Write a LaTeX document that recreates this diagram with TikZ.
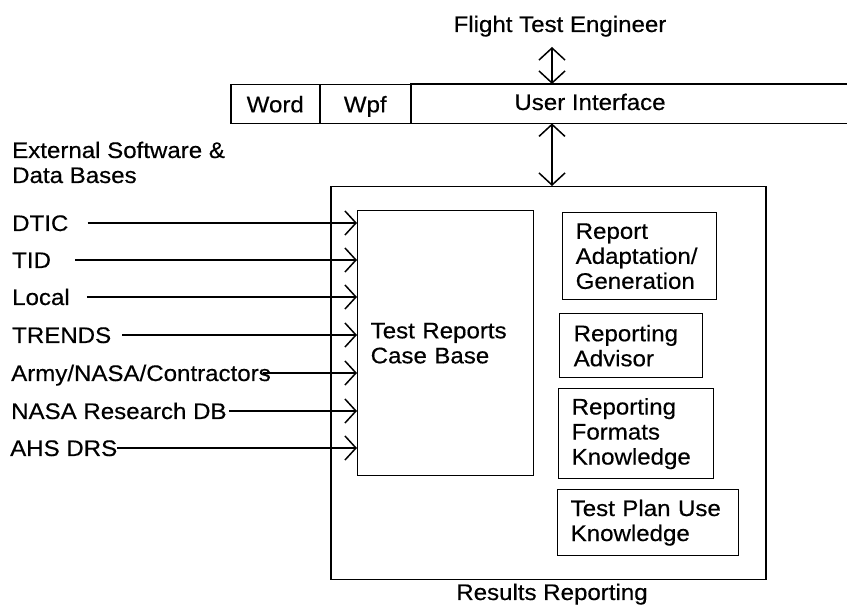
\documentclass[tikz,border=0pt]{standalone}
\usepackage{fontspec}
\setmainfont[FakeStretch=1.07,FakeBold=0.4]{Liberation Sans}
\usetikzlibrary{arrows.meta}
\begin{document}
\begin{tikzpicture}[x=1pt,y=-1pt,
  font=\fontsize{22.5}{25}\selectfont,
  frame/.style={draw, line width=1.5pt, anchor=north west, inner sep=0pt},
  rbox/.style={draw, line width=1.4pt, anchor=north west, inner xsep=13pt, inner ysep=0pt, align=left},
  lbl/.style={anchor=west, inner sep=0pt, text height=16pt, text depth=0pt},
  feed/.style={line width=1.3pt, -{Straight Barb[length=11pt,width=24pt,line width=1.5pt]}},
  dbl/.style={line width=1.3pt, {Straight Barb[length=12pt,width=26pt,line width=1.5pt]}-{Straight Barb[length=12pt,width=26pt,line width=1.5pt]}}
]
\useasboundingbox (0,0) rectangle (847,609);

% top
\node[inner sep=0pt, anchor=base] (fte) at (560,32) {Flight Test Engineer};
\node[frame, minimum width=89pt, minimum height=39pt] (word) at (230,84) {};
\node[lbl, anchor=center] (wordt) at (word.center) {Word};
\node[frame, minimum width=91pt, minimum height=39pt] (wpf) at (319,84) {};
\node[lbl, anchor=center] (wpft) at (wpf.center) {Wpf};
\node[anchor=north west, inner sep=0pt, minimum width=437pt, minimum height=39pt] (ui) at (410,84) {};
\draw[line width=1.5pt] (ui.north west) -- (ui.north east);
\draw[line width=1.5pt] (ui.south west) -- (ui.south east);
\node[lbl, anchor=center] (uit) at (590,102) {User Interface};

% outer box
\node[frame, minimum width=435pt, minimum height=393pt] (rr) at (330,186) {};
\node[inner sep=0pt, anchor=base] (rrl) at (552,600) {Results Reporting};

% arrows top
\coordinate (ax) at (552,47);
\draw[dbl] (ax) -- (ax |- ui.north);
\draw[dbl] (ui.south -| ax) -- (rr.north -| ax);

% case base
\node[rbox, minimum width=176pt, minimum height=265pt, text width=150pt] (cb) at (357,210) {Test Reports\\Case Base};

% right boxes
\node[rbox, minimum width=154pt, minimum height=87pt, text width=128pt] (rag) at (562,212) {Report\\Adaptation/\\Generation};
\node[rbox, minimum width=143pt, minimum height=64pt, text width=115pt, inner xsep=14pt] (ra) at (559,313) {Reporting\\Advisor};
\node[rbox, minimum width=155pt, minimum height=90pt, text width=129pt] (rfk) at (558,388) {Reporting\\Formats\\Knowledge};
\node[rbox, minimum width=181pt, minimum height=66pt, text width=155pt] (tpk) at (557,489) {Test Plan Use\\Knowledge};

% external
\node[anchor=base west, inner sep=0pt, align=left] (ext) at (12,183) {External Software \&\\Data Bases};

\node[lbl] (s1) at (12,223) {DTIC};
\node[lbl] (s2) at (12,260) {TID};
\node[lbl] (s3) at (12,297) {Local};
\node[lbl] (s4) at (12,335) {TRENDS};
\node[lbl] (s5) at (11,373) {Army/NASA/Contractors};
\node[lbl] (s6) at (11,411) {NASA Research DB};
\node[lbl] (s7) at (10,448) {AHS DRS};

\draw[feed] ([xshift=19pt]s1.east) -- (s1.east -| cb.west);
\draw[feed] ([xshift=24pt]s2.east) -- (s2.east -| cb.west);
\draw[feed] ([xshift=17pt]s3.east) -- (s3.east -| cb.west);
\draw[feed] ([xshift=11pt]s4.east) -- (s4.east -| cb.west);
\draw[feed] ([xshift=-8pt]s5.east) -- (s5.east -| cb.west);
\draw[feed] ([xshift=2pt]s6.east) -- (s6.east -| cb.west);
\draw[feed] ([xshift=0pt]s7.east) -- (s7.east -| cb.west);
\end{tikzpicture}
\end{document}
